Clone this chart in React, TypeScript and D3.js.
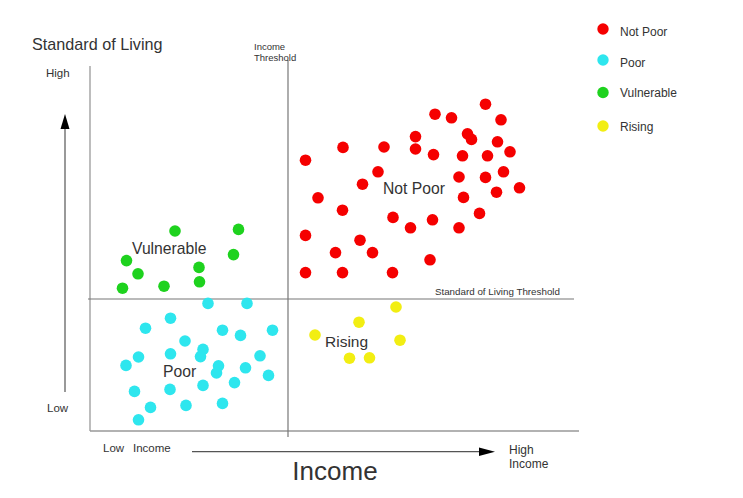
import React, { useEffect, useRef } from 'react';
import * as d3 from 'd3';

// income (0-100) vs standard of living (0-100)
const notPoor: [number, number][] = [
  [79.1, 81.7], [69.0, 79.2], [72.3, 78.3], [82.2, 77.8], [65.1, 73.6], [75.5, 74.3],
  [76.3, 72.9], [81.5, 72.3], [50.6, 70.9], [58.8, 71.0], [65.1, 70.5], [68.7, 69.1],
  [74.5, 68.8], [79.5, 68.8], [84.0, 69.8], [43.1, 67.7], [57.6, 64.8], [73.8, 63.5],
  [79.1, 63.4], [82.7, 64.8], [54.5, 61.7], [85.9, 60.8], [81.3, 59.7], [45.6, 58.3],
  [74.7, 58.4], [50.5, 55.2], [77.9, 54.4], [60.6, 53.4], [68.5, 52.8], [64.1, 50.8],
  [73.8, 50.8], [43.1, 48.9], [54.0, 47.7], [49.1, 44.6], [56.5, 44.6], [68.0, 42.8],
  [43.1, 39.6], [50.5, 39.6], [60.5, 39.6]
];

const vulnerable: [number, number][] = [
  [17.0, 50.0], [29.7, 50.4], [7.3, 42.6], [28.7, 44.1], [21.8, 40.9],
  [9.6, 39.3], [6.5, 35.7], [14.8, 36.2], [21.9, 37.3]
];

const poor: [number, number][] = [
  [23.6, 31.9], [31.4, 31.9], [16.1, 28.2], [11.1, 25.7], [26.5, 25.2], [30.1, 23.9],
  [36.5, 25.2], [19.0, 22.5], [22.6, 20.4], [22.1, 18.6], [16.1, 19.3], [9.7, 18.5],
  [7.2, 16.4], [34.0, 18.8], [25.7, 16.3], [25.3, 14.5], [31.1, 15.8], [35.7, 13.9],
  [28.9, 12.1], [22.6, 11.4], [16.0, 10.4], [8.9, 9.9], [12.1, 5.9], [19.2, 6.4],
  [26.5, 6.9], [9.7, 2.8]
];

const rising: [number, number][] = [
  [61.2, 31.0], [53.8, 27.2], [45.0, 24.0], [62.0, 22.7], [51.9, 18.2], [55.9, 18.3]
];

const incomeThreshold = 39.6;
const livingThreshold = 33.0;

const legendItems = ['Not Poor', 'Poor', 'Vulnerable', 'Rising'];
const colors = ['#f50000', '#2ee6ee', '#1ed21e', '#f2ee12'];

const App: React.FC = () => {
  const svgRef = useRef<SVGSVGElement | null>(null);

  useEffect(() => {
    if (!svgRef.current) return;
    const svg = d3.select(svgRef.current);
    svg.selectAll('*').remove();

    const font = '"Liberation Sans", Arial, sans-serif';
    const textColor = '#333';

    // scales: 5px per income unit, 4px per living unit
    const x = d3.scaleLinear().domain([0, 100]).range([90, 590]);
    const y = d3.scaleLinear().domain([0, 100]).range([431, 31]);

    const left = 90, right = 579, top = 66, bottom = 431;

    // box
    svg.append('line')
      .attr('x1', left).attr('x2', left).attr('y1', top).attr('y2', bottom)
      .attr('stroke', '#999').attr('stroke-width', 1.3);
    svg.append('line')
      .attr('x1', left).attr('x2', right).attr('y1', bottom).attr('y2', bottom)
      .attr('stroke', '#999').attr('stroke-width', 1.3);

    // thresholds
    svg.append('line')
      .attr('x1', x(incomeThreshold)).attr('x2', x(incomeThreshold))
      .attr('y1', 60).attr('y2', 437)
      .attr('stroke', '#777').attr('stroke-width', 1.2);
    svg.append('line')
      .attr('x1', 88).attr('x2', 574)
      .attr('y1', y(livingThreshold)).attr('y2', y(livingThreshold))
      .attr('stroke', '#777').attr('stroke-width', 1.2);

    // axis arrows
    svg.append('line')
      .attr('x1', 65).attr('x2', 65).attr('y1', 392).attr('y2', 128)
      .attr('stroke', '#555').attr('stroke-width', 1.2);
    svg.append('path')
      .attr('d', 'M65,114 L60.5,129 L69.5,129 Z')
      .attr('fill', '#000');
    svg.append('line')
      .attr('x1', 192).attr('x2', 481).attr('y1', 451.7).attr('y2', 451.7)
      .attr('stroke', '#555').attr('stroke-width', 1.2);
    svg.append('path')
      .attr('d', 'M495,451.7 L479,447.5 L479,456 Z')
      .attr('fill', '#000');

    const addText = (t: string, tx: number, ty: number, size: number, anchor = 'start') =>
      svg.append('text')
        .attr('x', tx).attr('y', ty)
        .attr('font-family', font).attr('font-size', size)
        .attr('fill', textColor).attr('text-anchor', anchor)
        .text(t);

    addText('Standard of Living', 32, 50, 16.2);
    addText('High', 46, 77, 11.5);
    addText('Low', 47, 411.5, 11.5);
    addText('Low', 103, 452, 11.5);
    addText('Income', 133, 452, 11.5);
    addText('High', 509, 454, 12);
    addText('Income', 509, 468, 12);
    addText('Income', 335, 480, 26, 'middle');
    addText('Income', 254, 49.5, 9.5);
    addText('Threshold', 254, 61, 9.5);
    addText('Standard of Living Threshold', 560, 295, 9.8, 'end');

    // points
    const groups = [notPoor, poor, vulnerable, rising];
    groups.forEach((data, i) => {
      svg.append('g')
        .selectAll('circle')
        .data(data)
        .enter()
        .append('circle')
        .attr('cx', d => x(d[0]))
        .attr('cy', d => y(d[1]))
        .attr('r', 5.8)
        .attr('fill', colors[i]);
    });

    // quadrant labels
    addText('Not Poor', 383, 194, 15.7);
    addText('Vulnerable', 132, 254, 15.7);
    addText('Poor', 163, 377, 15.7);
    addText('Rising', 325, 346.5, 15.5);

    // legend
    const legendY = [29, 60, 92.5, 126];
    legendItems.forEach((label, i) => {
      const row = svg.append('g')
        .attr('transform', `translate(603, ${legendY[i]})`);
      row.append('circle')
        .attr('r', 5.7)
        .attr('fill', colors[i]);
      row.append('text')
        .attr('x', 17)
        .attr('y', i < 2 ? 6.5 : 4.5)
        .attr('font-family', font)
        .attr('font-size', 12)
        .attr('fill', textColor)
        .text(label);
    });
  }, []);

  return (
    <svg
      ref={svgRef}
      width={743}
      height={498}
      style={{ position: 'absolute', left: 0, top: 0, background: '#fff' }}
    />
  );
};

export default App;
